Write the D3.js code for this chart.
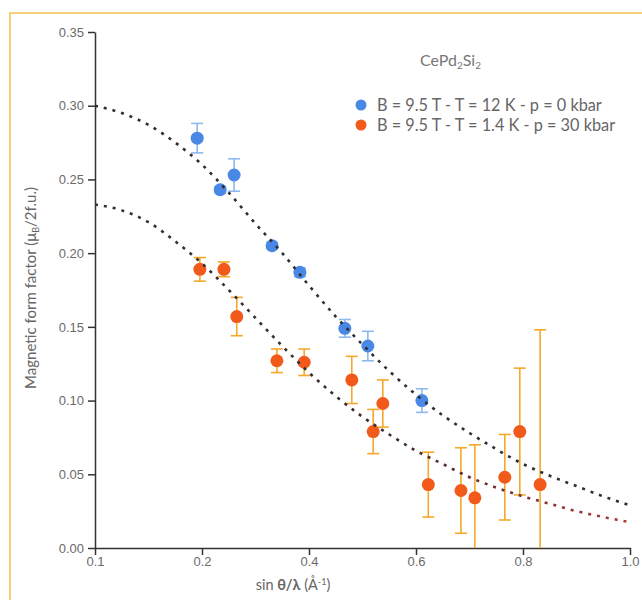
<!DOCTYPE html>
<html>
<head>
<meta charset="utf-8">
<script src="https://cdn.jsdelivr.net/npm/d3@7"></script>
<style>
  body { margin: 0; background: #fff; }
  svg { display: block; font-family: Lato, "Open Sans", sans-serif; }
  .tick text { fill: #6a6a6a; font-size: 13px; }
  .domain, .tick line { stroke: #333; stroke-width: 1.5; }
</style>
</head>
<body>
<div id="chart"></div>
<script>
// x ticks (labels as printed on the original axis)
var xTickValues = [0, 0.2, 0.4, 0.6, 0.8, 1.0];
var xTickLabels = ["0.1", "0.2", "0.4", "0.6", "0.8", "1.0"];
var yTickValues = [0, 0.05, 0.10, 0.15, 0.20, 0.25, 0.30, 0.35];

// B = 9.5 T, T = 12 K, p = 0 kbar
var blueX   = [0.191, 0.234, 0.260, 0.331, 0.383, 0.467, 0.510, 0.611];
var blueY   = [0.278, 0.243, 0.253, 0.205, 0.187, 0.149, 0.137, 0.100];
var blueErr = [0.010, 0.002, 0.011, 0.002, 0.003, 0.006, 0.010, 0.008];

// B = 9.5 T, T = 1.4 K, p = 30 kbar
var orangeX   = [0.196, 0.241, 0.265, 0.340, 0.391, 0.480, 0.520, 0.538, 0.623, 0.684, 0.710, 0.766, 0.794, 0.832];
var orangeY   = [0.189, 0.189, 0.157, 0.127, 0.126, 0.114, 0.079, 0.098, 0.043, 0.039, 0.034, 0.048, 0.079, 0.043];
var orangeErr = [0.008, 0.005, 0.013, 0.008, 0.009, 0.016, 0.015, 0.016, 0.022, 0.029, 0.036, 0.029, 0.043, 0.105];

// fitted form factor curves
var curveX     = [0, 0.05, 0.1, 0.15, 0.2, 0.25, 0.3, 0.35, 0.4, 0.45, 0.5, 0.55, 0.6, 0.65, 0.7, 0.75, 0.8, 0.85, 0.9, 0.95, 1.0];
var curveUpper = [0.300, 0.295, 0.287, 0.275, 0.260, 0.241, 0.220, 0.200, 0.178, 0.157, 0.138, 0.120, 0.104, 0.090, 0.078, 0.067, 0.057, 0.049, 0.042, 0.035, 0.029];
var curveLower = [0.233, 0.229, 0.221, 0.208, 0.193, 0.175, 0.156, 0.137, 0.119, 0.103, 0.089, 0.077, 0.066, 0.057, 0.048, 0.041, 0.035, 0.030, 0.025, 0.021, 0.0175];

var legendLabels = ["B = 9.5 T - T = 12 K - p = 0 kbar", "B = 9.5 T - T = 1.4 K - p = 30 kbar"];

var svgWidth = 642, svgHeight = 600;
var margin = { top: 32, right: 12, bottom: 52, left: 95 };
var width = svgWidth - margin.left - margin.right;
var height = svgHeight - margin.top - margin.bottom;

var svg = d3.select("#chart").append("svg")
    .attr("width", svgWidth)
    .attr("height", svgHeight);

// yellow frame edges
svg.append("path")
    .attr("d", "M10,600 L10,13 L642,13")
    .attr("fill", "none")
    .attr("stroke", "#f6cf7a")
    .attr("stroke-width", 2);

var defs = svg.append("defs");
var grad = defs.append("linearGradient")
    .attr("id", "lowerGrad")
    .attr("x1", "0%").attr("x2", "100%").attr("y1", "0%").attr("y2", "0%");
grad.append("stop").attr("offset", "0%").attr("stop-color", "#333");
grad.append("stop").attr("offset", "55%").attr("stop-color", "#3a2a2a");
grad.append("stop").attr("offset", "100%").attr("stop-color", "#b03a3a");

var chartGroup = svg.append("g")
    .attr("transform", `translate(${margin.left}, ${margin.top})`);

var x = d3.scaleLinear().domain([0, 1]).range([0, width]);
var y = d3.scaleLinear().domain([0, 0.35]).range([height, 0]).clamp(true);

// axes
var bottomAxis = d3.axisBottom(x)
    .tickValues(xTickValues)
    .tickFormat((d, i) => xTickLabels[i])
    .tickSizeInner(7).tickSizeOuter(0).tickPadding(2);
var leftAxis = d3.axisLeft(y)
    .tickValues(yTickValues)
    .tickFormat(d3.format(".2f"))
    .tickSizeInner(7).tickSizeOuter(0).tickPadding(4);

chartGroup.append("g")
    .attr("transform", `translate(0, ${height})`)
    .call(bottomAxis);
chartGroup.append("g")
    .call(leftAxis);

// error bars + points
function drawSeries(xs, ys, errs, dotColor, barColor) {
    var data = xs.map((d, i) => ({ x: d, y: ys[i], e: errs[i] }));
    var g = chartGroup.append("g");
    var bars = g.selectAll("g.err").data(data).enter().append("g")
        .attr("stroke", barColor).attr("stroke-width", 1.6);
    bars.append("line")
        .attr("x1", d => x(d.x)).attr("x2", d => x(d.x))
        .attr("y1", d => y(d.y + d.e)).attr("y2", d => y(d.y - d.e));
    bars.filter(d => d.y - d.e > 0).append("line")
        .attr("x1", d => x(d.x) - 6).attr("x2", d => x(d.x) + 6)
        .attr("y1", d => y(d.y - d.e)).attr("y2", d => y(d.y - d.e));
    bars.append("line")
        .attr("x1", d => x(d.x) - 6).attr("x2", d => x(d.x) + 6)
        .attr("y1", d => y(d.y + d.e)).attr("y2", d => y(d.y + d.e));
    g.selectAll("circle").data(data).enter().append("circle")
        .attr("cx", d => x(d.x))
        .attr("cy", d => y(d.y))
        .attr("r", 6.5)
        .attr("fill", dotColor);
}
drawSeries(blueX, blueY, blueErr, "#4a88e6", "#8db8f0");
drawSeries(orangeX, orangeY, orangeErr, "#f25a1c", "#f5a82a");

// dotted curves
var line = d3.line()
    .x(d => x(d[0]))
    .y(d => y(d[1]))
    .curve(d3.curveMonotoneX);

chartGroup.append("path")
    .datum(curveX.map((d, i) => [d, curveUpper[i]]))
    .attr("d", line)
    .attr("fill", "none")
    .attr("stroke", "#2e2e34")
    .attr("stroke-width", 2.6)
    .attr("stroke-dasharray", "3,6");

chartGroup.append("path")
    .datum(curveX.map((d, i) => [d, curveLower[i]]))
    .attr("d", line)
    .attr("fill", "none")
    .attr("stroke", "url(#lowerGrad)")
    .attr("stroke-width", 2.6)
    .attr("stroke-dasharray", "3,6");

// axis titles
var yTitle = svg.append("text")
    .attr("transform", "translate(36, 288) rotate(-90)")
    .attr("text-anchor", "middle")
    .attr("fill", "#666")
    .style("font-size", "15px");
yTitle.append("tspan").text("Magnetic form factor (μ");
yTitle.append("tspan").attr("dy", 3).style("font-size", "9px").text("B");
yTitle.append("tspan").attr("dy", -3).text("/2f.u.)");

var xTitle = svg.append("text")
    .attr("x", 293).attr("y", 590)
    .attr("text-anchor", "middle")
    .attr("fill", "#666")
    .style("font-size", "14.5px");
xTitle.append("tspan").text("sin ");
xTitle.append("tspan").style("font-weight", "bold").text("θ/λ");
xTitle.append("tspan").text(" (Å");
xTitle.append("tspan").attr("dy", -5).style("font-size", "9px").text("-1");
xTitle.append("tspan").attr("dy", 5).text(")");

// compound label and legend
var title = svg.append("text")
    .attr("x", 420).attr("y", 66)
    .attr("fill", "#777")
    .style("font-size", "16px");
title.append("tspan").text("CePd");
title.append("tspan").attr("dy", 3).style("font-size", "10px").text("2");
title.append("tspan").attr("dy", -3).text("Si");
title.append("tspan").attr("dy", 3).style("font-size", "10px").text("2");

var legendColors = ["#4a88e6", "#f25a1c"];
var legend = svg.append("g").attr("transform", "translate(361, 105)");
legendLabels.forEach(function (lab, i) {
    var row = legend.append("g").attr("transform", `translate(0, ${i * 20})`);
    row.append("circle").attr("r", 5.5).attr("fill", legendColors[i]);
    row.append("text")
        .attr("x", 16).attr("y", 5.5)
        .attr("fill", "#666")
        .style("font-size", "16.3px")
        .text(lab);
});
</script>
</body>
</html>
